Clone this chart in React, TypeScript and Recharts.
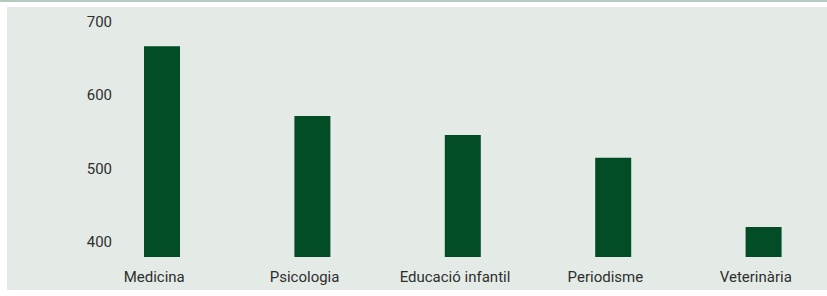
import { BarChart, Bar, XAxis, YAxis } from 'recharts';

const categories = ['Medicina', 'Psicologia', 'Educació infantil', 'Periodisme', 'Veterinària'];
const notes = [667, 572, 546, 515, 421];
const yTicks = [400, 500, 600, 700];

const chartData = categories.map((name, i) => ({ name, value: notes[i] }));

const FONT = 'Roboto, "Noto Sans", sans-serif';
const TEXT = '#2e2e2e';

function XTick({ x, y, payload }: any) {
  return (
    <text x={x - 8} y={y + 25} textAnchor="middle" fontSize={15} fontFamily={FONT} fill={TEXT}>
      {payload.value}
    </text>
  );
}

function YTick({ x, y, payload }: any) {
  return (
    <text x={x + 25} y={y + 5} textAnchor="end" fontSize={15} fontFamily={FONT} fill={TEXT}>
      {payload.value}
    </text>
  );
}

export default function App() {
  return (
    <div
      style={{
        position: 'absolute',
        left: 0,
        top: 0,
        width: 827,
        height: 296,
        overflow: 'hidden',
        background: '#ffffff',
      }}
    >
      <div style={{ position: 'absolute', left: 0, top: 0, width: 827, height: 2, background: '#b4cbbe' }} />
      <div style={{ position: 'absolute', left: 7, top: 7, width: 820, height: 283, background: '#e4ebe7' }} />
      <div style={{ position: 'absolute', left: 0, top: 0 }}>
        <BarChart
          width={850}
          height={296}
          data={chartData}
          margin={{ top: 22, right: 11, bottom: 0, left: 0 }}
        >
          <XAxis
            dataKey="name"
            height={39}
            axisLine={false}
            tickLine={false}
            tickSize={0}
            tickMargin={0}
            interval={0}
            tick={<XTick />}
          />
          <YAxis
            width={87}
            domain={[380, 700]}
            ticks={yTicks}
            allowDataOverflow
            axisLine={false}
            tickLine={false}
            tickSize={0}
            tickMargin={0}
            tick={<YTick />}
          />
          <Bar dataKey="value" fill="#024c26" barSize={36} isAnimationActive={false} />
        </BarChart>
      </div>
    </div>
  );
}
